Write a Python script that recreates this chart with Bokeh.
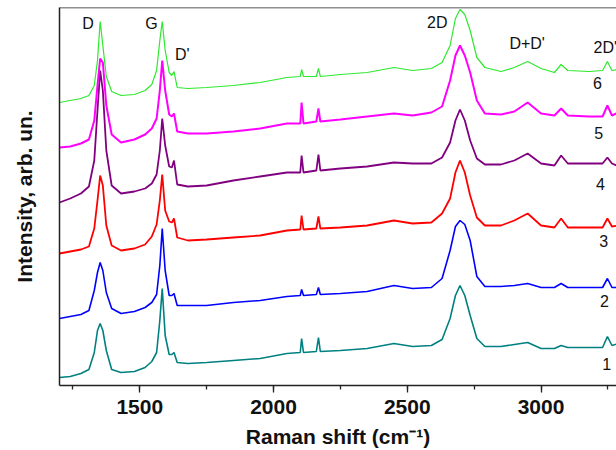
from bokeh.plotting import figure
from bokeh.models import Range1d, SingleIntervalTicker, FixedTicker, Span, ColumnDataSource
from bokeh.core.properties import value
from bokeh.embed import file_html
from bokeh.resources import INLINE

# Raman shift (cm^-1)
shift = [1200, 1240, 1280, 1310, 1330, 1342, 1352, 1362, 1375, 1395,
         1430, 1480, 1520, 1545, 1563, 1575, 1584, 1595, 1610, 1620,
         1628, 1640, 1680, 1750, 1850, 1950, 2050, 2100, 2105, 2112,
         2160, 2168, 2175, 2250, 2350, 2450, 2520, 2590, 2630, 2660,
         2680, 2697, 2715, 2735, 2760, 2790, 2850, 2900, 2950, 3000,
         3050, 3075, 3100, 3180, 3230, 3248, 3265, 3290]

# Intensities (arb. un., offset stacked)
s1 = [9, 10, 13, 17, 34, 56, 63, 56, 36, 17,
      14, 15, 19, 25, 34, 66, 98, 51, 32, 32,
      34, 24, 23, 24, 26, 28, 33, 34, 48, 34,
      35, 49, 35, 36, 38, 43, 40, 41, 47, 68,
      91, 101, 91, 71, 48, 40, 40, 42, 44, 38,
      38, 41, 39, 39, 39, 50, 41, 43]
s2 = [68, 70, 72, 76, 96, 114, 124, 116, 94, 78,
      73, 75, 79, 84, 92, 121, 158, 116, 91, 91,
      93, 81, 81, 81, 84, 86, 90, 91, 97, 91,
      92, 99, 92, 93, 95, 101, 98, 99, 108, 136,
      160, 166, 162, 146, 110, 100, 100, 101, 103, 99,
      99, 103, 99, 99, 99, 108, 99, 99]
s3 = [133, 135, 137, 140, 158, 186, 211, 201, 161, 141,
      136, 138, 142, 150, 162, 186, 212, 176, 165, 164,
      168, 149, 146, 147, 149, 151, 156, 157, 171, 157,
      158, 170, 158, 159, 161, 166, 163, 164, 173, 188,
      214, 226, 214, 191, 169, 161, 161, 166, 173, 161,
      159, 168, 159, 159, 159, 168, 160, 161]
s4 = [184, 188, 193, 200, 226, 276, 316, 296, 236, 201,
      193, 195, 198, 203, 212, 236, 268, 241, 220, 219,
      226, 202, 200, 201, 206, 210, 214, 214, 231, 214,
      216, 232, 216, 218, 220, 224, 223, 223, 229, 244,
      266, 277, 266, 246, 228, 222, 222, 226, 233, 223,
      221, 231, 223, 223, 223, 229, 223, 220]
s5 = [239, 240, 243, 247, 266, 301, 328, 324, 281, 252,
      244, 247, 252, 258, 268, 296, 326, 296, 272, 270,
      273, 255, 253, 253, 255, 258, 263, 263, 284, 263,
      265, 278, 265, 267, 270, 273, 271, 274, 280, 306,
      331, 341, 331, 314, 286, 273, 272, 275, 284, 273,
      271, 278, 271, 270, 270, 281, 271, 274]
s6 = [284, 286, 288, 291, 301, 326, 365, 341, 310, 295,
      291, 292, 296, 302, 316, 346, 365, 336, 314, 311,
      315, 299, 298, 299, 301, 304, 309, 310, 317, 310,
      310, 318, 310, 312, 314, 319, 316, 318, 324, 341,
      368, 377, 372, 356, 329, 319, 315, 319, 325, 318,
      314, 322, 316, 315, 316, 325, 316, 317]

series = [s1, s2, s3, s4, s5, s6]
colors = ["#008080", "#0000ff", "#ff0000", "#800080", "#ff00ff", "#2ee82e"]
widths = [1.6, 1.6, 1.8, 1.8, 2.0, 1.2]

peak_labels = ["D", "G", "D'", "2D", "D+D'", "2D'"]
peak_x = [1307, 1544, 1659, 2612, 2948, 3196]
peak_y = [363, 363, 332, 364, 343, 339]
peak_align = ["center", "center", "center", "center", "center", "left"]

num_labels = ["1", "2", "3", "4", "5", "6"]
num_x = [3245, 3237, 3234, 3222, 3215, 3211]
num_y = [23, 86, 146, 203, 254, 304]

x_title = "Raman shift (cm\u207b\u00b9)"
y_title = "Intensity, arb. un."

p = figure(width=616, height=450, output_backend="svg", toolbar_location=None,
           x_range=Range1d(1200, 3282), y_range=Range1d(1, 379),
           min_border_left=59, min_border_right=0, min_border_top=7,
           min_border_bottom=65)
p.outline_line_color = None
p.background_fill_color = "white"
p.border_fill_color = "white"
p.xgrid.visible = False
p.ygrid.visible = False

for s, c, w in zip(series, colors, widths):
    p.line(shift, s, line_color=c, line_width=w)

src_peaks = ColumnDataSource(dict(x=peak_x, y=peak_y, t=peak_labels, a=peak_align))
p.text(x="x", y="y", text="t", source=src_peaks, text_align="a",
       text_baseline="middle", text_font=value("Liberation Sans"),
       text_font_size="16px", text_color="#111111")
src_nums = ColumnDataSource(dict(x=num_x, y=num_y, t=num_labels))
p.text(x="x", y="y", text="t", source=src_nums, text_align="center",
       text_baseline="middle", text_font=value("Liberation Sans"),
       text_font_size="16px", text_color="#111111")

ax = p.xaxis[0]
ax.ticker = SingleIntervalTicker(interval=500, num_minor_ticks=2)
ax.axis_line_width = 1.5
ax.axis_line_color = "#222222"
ax.major_tick_out = 7
ax.major_tick_in = 0
ax.minor_tick_out = 4
ax.minor_tick_in = 0
ax.major_tick_line_width = 1.3
ax.minor_tick_line_width = 1.3
ax.major_tick_line_color = "#222222"
ax.minor_tick_line_color = "#222222"
ax.major_label_text_font = "Liberation Sans"
ax.major_label_text_font_style = "bold"
ax.major_label_text_font_size = "21px"
ax.major_label_text_color = "#111111"
ax.major_label_standoff = 7
ax.axis_label = x_title
ax.axis_label_text_font = "Liberation Sans"
ax.axis_label_text_font_style = "bold"
ax.axis_label_text_font_size = "21px"
ax.axis_label_text_color = "#111111"
ax.axis_label_text_line_height = 0.5
ax.axis_label_standoff = 8

ay = p.yaxis[0]
ay.ticker = FixedTicker(ticks=[])
ay.axis_line_width = 1.5
ay.axis_line_color = "#222222"
ay.major_tick_line_color = None
ay.minor_tick_line_color = None
ay.axis_label = y_title
ay.axis_label_text_font = "Liberation Sans"
ay.axis_label_text_font_style = "bold"
ay.axis_label_text_font_size = "21px"
ay.axis_label_text_color = "#111111"
ay.axis_label_standoff = 24

p.add_layout(Span(location=379, dimension="width", line_color="#222222", line_width=1.5))

open("out.html", "w").write(file_html(p, INLINE))
